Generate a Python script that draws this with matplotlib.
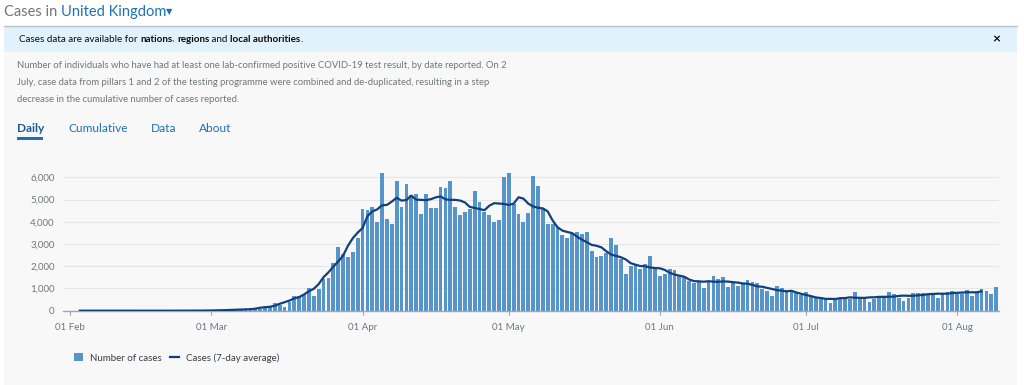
import matplotlib
matplotlib.use("Agg")
import matplotlib.pyplot as plt
import matplotlib.dates as mdates
from matplotlib.patches import Rectangle
from matplotlib.lines import Line2D
import numpy as np
import pandas as pd

# daily cases by date reported (31 Jan - 09 Aug 2020)
start_date = "2020-01-31"
cases_jan = [2]
cases_feb = [0, 0, 0, 0, 0, 1, 0, 0, 0, 4, 1, 0, 0, 0, 0, 0, 0, 0, 0, 0,
             0, 0, 0, 0, 0, 4, 2, 5, 4]
cases_mar = [13, 4, 11, 34, 29, 48, 45, 69, 43, 62, 77, 130, 208, 342, 251, 152,
             407, 676, 643, 714, 1035, 665, 967, 1427, 1452, 2129, 2885, 2546,
             2433, 2619, 3250]
cases_apr = [4560, 4530, 4650, 3970, 6180, 4120, 3880, 5850, 4660, 5680,
             5200, 5260, 4330, 5230, 4600, 4600, 5580, 5500, 5830, 4660,
             4290, 4440, 4590, 5380, 4900, 4440, 4300, 3970, 4060, 6000]
cases_may = [6180, 4780, 4330, 3970, 4380, 6070, 5590, 4600, 3880, 3910,
             3780, 3400, 3250, 3450, 3550, 3450, 3550, 2690, 2430, 2470,
             2580, 3280, 2950, 2320, 1640, 2020, 2050, 1890, 2100, 2460, 1900]
cases_jun = [1570, 1640, 1860, 1820, 1600, 1560, 1330, 1230, 1300, 1000,
             1290, 1540, 1430, 1500, 1070, 1270, 1120, 1230, 1360, 1300,
             1230, 980, 890, 660, 1120, 1000, 920, 920, 780, 700]
cases_jul = [830, 600, 560, 560, 560, 360, 530, 560, 600, 510,
             820, 600, 590, 410, 540, 560, 680, 840, 740, 590,
             450, 570, 780, 780, 780, 740, 740, 590, 780, 850, 880]
cases_aug = [760, 760, 930, 670, 830, 960, 880, 760, 1060]

y_ticks = [0, 1000, 2000, 3000, 4000, 5000, 6000]
x_ticks = ["2020-02-01", "2020-03-01", "2020-04-01", "2020-05-01",
           "2020-06-01", "2020-07-01", "2020-08-01"]

W, H = 1024, 385
BLUE = "#1d70b8"
GREY = "#6f777b"
BAR = "#5694ca"
NAVY = "#12407c"
FONT = "Lato"

cases = cases_jan + cases_feb + cases_mar + cases_apr + cases_may + cases_jun + cases_jul + cases_aug
dates = pd.date_range(start_date, periods=len(cases), freq="D")
avg7 = pd.Series(cases, index=dates).rolling(7, center=True).mean()

plt.rcParams["font.family"] = [FONT, "DejaVu Sans"]

fig = plt.figure(figsize=(W / 100, H / 100), dpi=100)
fig.patch.set_facecolor("white")


def fx(x):
    return x / W


def fy(y):
    return 1 - y / H


def rect(x0, y0, x1, y1, color):
    fig.add_artist(Rectangle((fx(x0), fy(y1)), fx(x1) - fx(x0), fy(y0) - fy(y1),
                             transform=fig.transFigure, facecolor=color,
                             edgecolor="none", zorder=0))


def pieces(x, y, parts, size, va="center"):
    # write text pieces one after the other (for mixed bold / colour)
    renderer = fig.canvas.get_renderer()
    for s, color, weight, fs in [(p[0], p[1], p[2], p[3] if len(p) > 3 else size) for p in parts]:
        t = fig.text(fx(x), fy(y), s, fontsize=fs, color=color,
                     fontweight=weight, va=va, ha="left")
        bb = t.get_window_extent(renderer)
        x = bb.x1


# page panels
rect(4, 52, 1017, H, "#f8f8f8")
rect(4, 26, 1017, 52, "#e1f2fc")
fig.add_artist(Line2D([fx(4), fx(1017)], [fy(25.5), fy(25.5)], transform=fig.transFigure,
                      color="#b8c4cc", lw=1))

# header
pieces(4, 12, [("Cases in ", GREY, "normal"), ("United Kingdom", BLUE, "normal"),
               ("\u25bc", BLUE, "normal", 6)], 10.5)

# banner
pieces(19, 39.5, [("Cases data are available for ", "#0b0c0c", "normal"),
                  ("nations", "#0b0c0c", "bold"), (", ", "#0b0c0c", "normal"),
                  ("regions", "#0b0c0c", "bold"), (" and ", "#0b0c0c", "normal"),
                  ("local authorities", "#0b0c0c", "bold"), (".", "#0b0c0c", "normal")], 7.1)
fig.text(fx(996), fy(39.5), "\u00d7", fontsize=10, fontweight="bold", color="#0b0c0c",
         ha="center", va="center")

# description
desc = ["Number of individuals who have had at least one lab-confirmed positive COVID-19 test result, by date reported. On 2",
        "July, case data from pillars 1 and 2 of the testing programme were combined and de-duplicated, resulting in a step",
        "decrease in the cumulative number of cases reported."]
for i, line in enumerate(desc):
    fig.text(fx(17), fy(66 + 16.8 * i), line, fontsize=6.8, color=GREY, va="center")

# tabs
tabs = [("Daily", 17), ("Cumulative", 68), ("Data", 151), ("About", 199)]
for name, x in tabs:
    fig.text(fx(x), fy(128), name, fontsize=8.6, color="#1d5a96" if name == "Daily" else BLUE,
             fontweight="bold" if name == "Daily" else "normal", va="center")
rect(17, 137, 43, 139.5, BLUE)

# chart
y0, y6000 = 310.7, 177.3
ymax = 6400
top_px = y0 - (y0 - y6000) * ymax / 6000
ax = fig.add_axes([fx(63), fy(y0), fx(999) - fx(63), fy(top_px) - fy(y0)])
ax.set_facecolor("none")

bars = ax.bar(dates, cases, width=0.78, color=BAR, zorder=2, label="Number of cases")
line, = ax.plot(avg7.index, avg7.values, color=NAVY, lw=1.6, zorder=3, label="Cases (7-day average)")

ax.set_ylim(0, ymax)
ax.set_xlim(pd.Timestamp("2020-01-30 13:00"), pd.Timestamp("2020-08-09 14:00"))
ax.set_yticks(y_ticks)
ax.set_yticklabels([f"{v:,}" for v in y_ticks])
ax.set_xticks(pd.to_datetime(x_ticks))
ax.xaxis.set_major_formatter(mdates.DateFormatter("%d %b"))
ax.grid(axis="y", color="#e6e6e6", lw=0.8, zorder=0)
for s in ["top", "right", "left"]:
    ax.spines[s].set_visible(False)
ax.spines["bottom"].set_color("#a0a8ad")
ax.spines["bottom"].set_linewidth(1)
ax.tick_params(axis="y", length=0, pad=6, labelsize=7, labelcolor=GREY)
ax.tick_params(axis="x", length=3, pad=6, labelsize=7, labelcolor=GREY, color="#a0a8ad",
               direction="out")

fig.legend([bars, line], ["Number of cases", "Cases (7-day average)"], loc="center left",
           bbox_to_anchor=(fx(65), fy(358)), ncol=2, frameon=False, fontsize=7.0,
           handlelength=0.9, handleheight=0.9, handletextpad=0.8, columnspacing=0.8,
           labelcolor="#383f43")

fig.savefig("out.png", dpi=100, facecolor=fig.get_facecolor())
